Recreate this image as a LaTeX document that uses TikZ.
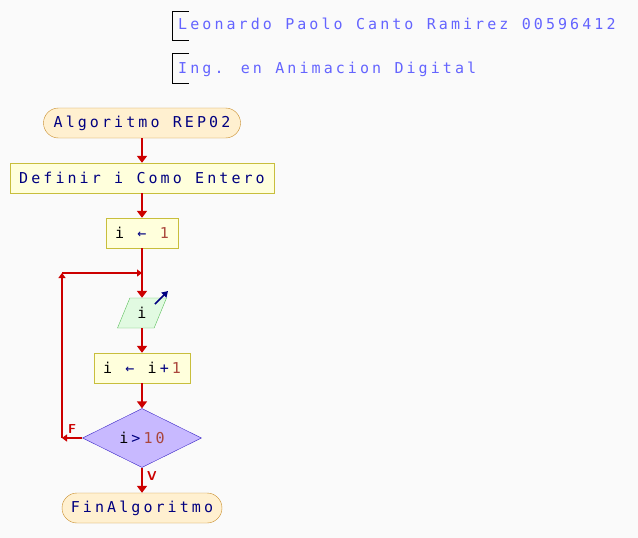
\documentclass[tikz,border=0pt]{standalone}
\usepackage{fontspec}
\newfontfamily\monof[LetterSpace=20.5,WordSpace=1.1]{DejaVu Sans Mono}
\newcommand\lsp{\kern3.07pt}
\usetikzlibrary{shapes.geometric,arrows.meta}
\definecolor{bgc}{RGB}{250,250,250}
\definecolor{hdr}{RGB}{100,100,255}
\definecolor{kw}{RGB}{0,0,128}
\definecolor{num}{RGB}{170,70,60}
\definecolor{flowc}{RGB}{204,0,0}
\definecolor{termf}{RGB}{255,240,208}
\definecolor{termd}{RGB}{200,140,40}
\definecolor{boxf}{RGB}{255,255,220}
\definecolor{boxd}{RGB}{200,190,60}
\definecolor{iof}{RGB}{225,250,225}
\definecolor{iod}{RGB}{90,190,90}
\definecolor{decf}{RGB}{200,185,255}
\definecolor{decd}{RGB}{60,40,200}
\tikzset{
  txt/.style={font=\monof\fontsize{15}{17}\selectfont},
  term/.style={txt, draw=termd, fill=termf, rounded corners=15pt, minimum height=30pt, inner sep=0pt, text=kw},
  stepbox/.style={txt, draw=boxd, fill=boxf, minimum height=30pt, inner sep=0pt, text=kw},
  iobox/.style={txt, draw=iod, fill=iof, trapezium, trapezium left angle=68, trapezium right angle=112, trapezium stretches=true, minimum width=49pt, minimum height=30pt, inner sep=0pt},
  decbox/.style={txt, draw=decd, fill=decf, diamond, minimum width=119pt, minimum height=59pt, inner sep=0pt},
  flow/.style={draw=flowc, line width=1.8pt, -{Triangle[length=7pt,width=10pt]}},
  flowsm/.style={draw=flowc, line width=1.8pt, -{Triangle[length=5pt,width=7pt]}},
  lab/.style={font=\sffamily\bfseries\fontsize{13}{14}\selectfont, text=flowc, inner sep=0pt},
  hdrtxt/.style={font=\monof\fontsize{15}{17}\selectfont, text=hdr, inner sep=0pt, anchor=base west}
}
\begin{document}
\begin{tikzpicture}[x=1pt,y=-1pt]
\fill[bgc] (0,0) rectangle (638,538);
\useasboundingbox (0,0) rectangle (638,538);
% header
\draw[black, line width=1pt] (189,11) -- (172,11) -- (172,40) -- (189,40);
\node[hdrtxt] (h1) at (178,30) {Leonardo Paolo Canto Ramirez 00596412};
\draw[black, line width=1pt] (189,53) -- (172,53) -- (172,83) -- (189,83);
\node[hdrtxt] (h2) at (178,73) {Ing. en Animacion Digital};
% flowchart
\node[term, minimum width=197pt] (start) at (142,123) {Algoritmo REP02};
\node[stepbox, minimum width=264pt] (def) at (142,178) {Definir i Como Entero};
\node[stepbox, minimum width=72pt] (asg) at (142,233) {\textcolor{black}{i} \textcolor{kw}{←} \textcolor{num}{1}};
\node[iobox] (io) at (142,313) {\textcolor{black}{i}};
\node[stepbox, minimum width=96pt] (inc) at (142,368) {\textcolor{black}{i} ← \textcolor{black}{i}\lsp+\lsp\textcolor{num}{1}};
\node[decbox] (dec) at (142,438) {\textcolor{black}{i}\lsp\textcolor{kw}{>}\lsp\textcolor{num}{10}};
\node[term, minimum width=160pt] (fin) at (142,508) {FinAlgoritmo};
\coordinate (junc) at (142,273);
\coordinate (loopB) at (62,438);
\coordinate (loopT) at (62,273);
\coordinate (oa) at (155,304);
\coordinate (ob) at (168,291);
\draw[flow] (start) -- (def);
\draw[flow] (def) -- (asg);
\draw[flow] (asg) -- (io);
\draw[flow] (io) -- (inc);
\draw[flow] (inc) -- (dec);
\draw[flow] (dec) -- (fin);
\draw[flowsm] (dec.west) -- (loopB);
\draw[flowsm] (loopB) -- (loopT);
\draw[flowsm] (loopT) -- (junc);
\draw[kw, line width=1.6pt, -{Triangle[length=6pt,width=7pt]}] (oa) -- (ob);
\node[lab] (lf) at (72,429) {F};
\node[lab] (lv) at (152,476) {V};
\end{tikzpicture}
\end{document}
